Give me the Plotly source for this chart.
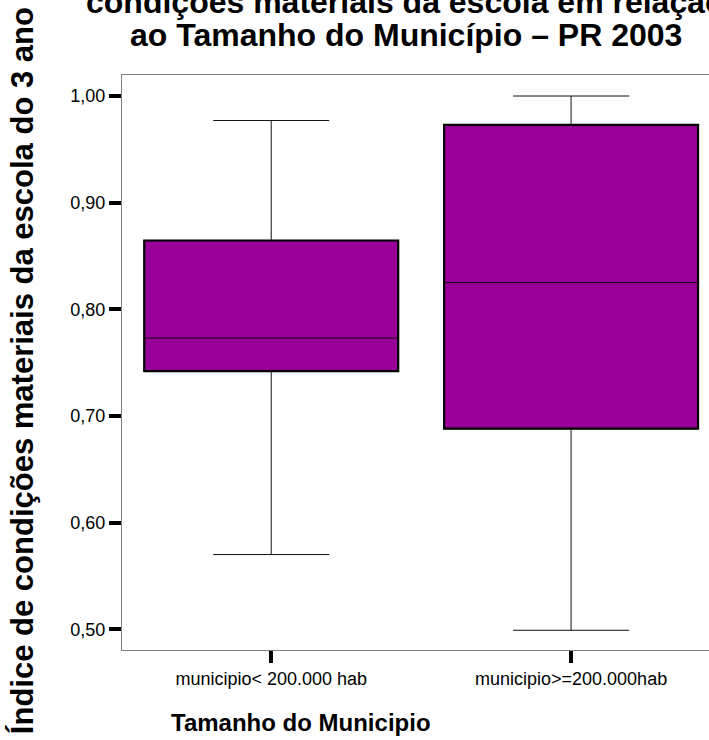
import plotly.graph_objects as go

# Box-plot summary statistics per municipality size group
categories = ["municipio< 200.000 hab", "municipio>=200.000hab"]
lower_whisker = [0.570, 0.499]
q1 = [0.742, 0.688]
median = [0.773, 0.825]
q3 = [0.8645, 0.973]
upper_whisker = [0.977, 1.000]

y_ticks = [0.50, 0.60, 0.70, 0.80, 0.90, 1.00]
y_tick_text = ["0,50", "0,60", "0,70", "0,80", "0,90", "1,00"]

FILL = "#990099"
FONT = "Liberation Sans, Arial, sans-serif"
BOX_WIDTH = 0.847

positions = list(range(len(categories)))

fig = go.Figure()
for i, cat in enumerate(categories):
    fig.add_trace(go.Box(
        x=[positions[i]],
        q1=[q1[i]], median=[median[i]], q3=[q3[i]],
        lowerfence=[lower_whisker[i]], upperfence=[upper_whisker[i]],
        name=cat,
        width=BOX_WIDTH,
        whiskerwidth=0.457,
        fillcolor=FILL,
        line=dict(color="#111111", width=1),
        boxpoints=False,
        showlegend=False,
        hoverinfo="skip",
    ))
    # heavier outline round the interquartile box
    fig.add_shape(
        type="rect", xref="x", yref="y",
        x0=positions[i] - BOX_WIDTH / 2, x1=positions[i] + BOX_WIDTH / 2,
        y0=q1[i], y1=q3[i],
        line=dict(color="black", width=2.2),
        fillcolor="rgba(0,0,0,0)",
        layer="above",
    )

fig.update_layout(
    width=709, height=740,
    margin=dict(l=122, r=0, t=75, b=90),
    paper_bgcolor="white", plot_bgcolor="white",
    font=dict(family=FONT, color="black"),
    showlegend=False,
)

fig.update_xaxes(
    range=[-0.4977, 1.46],
    tickmode="array", tickvals=positions, ticktext=categories,
    tickfont=dict(size=18, family=FONT, color="black"),
    ticks="outside", ticklen=12, tickwidth=4, tickcolor="black",
    showline=True, mirror=True, linecolor="#808080", linewidth=1,
    showgrid=False, zeroline=False,
)
fig.update_yaxes(
    range=[0.4805, 1.0197],
    tickmode="array", tickvals=y_ticks, ticktext=y_tick_text,
    tickfont=dict(size=18, family=FONT, color="black"),
    ticks="outside", ticklen=12, tickwidth=4, tickcolor="black",
    showline=True, mirror=False, linecolor="#808080", linewidth=1,
    showgrid=False, zeroline=False,
)

title_font = dict(family=FONT, size=32, color="black", weight="bold")
fig.add_annotation(
    text="condições materiais da escola em relação",
    xref="paper", yref="paper", x=0.4838, y=1.1278,
    xanchor="center", yanchor="middle", showarrow=False, font=title_font,
)
fig.add_annotation(
    text="ao Tamanho do Município – PR 2003",
    xref="paper", yref="paper", x=0.4838, y=1.0689,
    xanchor="center", yanchor="middle", showarrow=False, font=title_font,
)
fig.add_annotation(
    text="Índice de condições materiais da escola do 3 ano",
    xref="paper", yref="paper", x=0, xshift=-100, y=0.485,
    xanchor="center", yanchor="middle", textangle=-90,
    showarrow=False, font=dict(family=FONT, size=31, color="black", weight="bold"),
)
fig.add_annotation(
    text="Tamanho do Municipio",
    xref="paper", yref="paper", x=0.305, y=0, yshift=-57,
    xanchor="center", yanchor="top", showarrow=False,
    font=dict(family=FONT, size=24, color="black", weight="bold"),
)

fig.write_html("out.html")
